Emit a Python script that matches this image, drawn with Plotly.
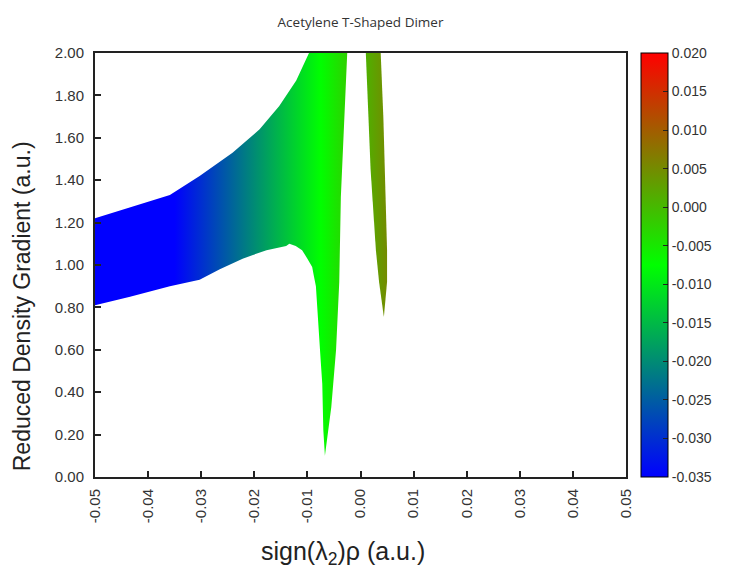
import plotly.graph_objects as go

# ---- data ----
# main region: upper edge of the band (left to right)
band_upper_x = [-0.0500, -0.0434, -0.0359, -0.0303, -0.0265, -0.0241, -0.0190, -0.0153, -0.0121, -0.0097]
band_upper_y = [1.22, 1.27, 1.33, 1.42, 1.49, 1.53, 1.64, 1.75, 1.87, 2.00]
# right edge of the green spike (top to tip)
spike_right_x = [-0.0025, -0.0031, -0.0037, -0.0040, -0.0046, -0.0055, -0.0067]
spike_right_y = [2.00, 1.65, 1.32, 0.92, 0.60, 0.33, 0.10]
# left edge of the spike and lower edge of the band (tip back to the left)
band_lower_x = [-0.0070, -0.0072, -0.0075, -0.0078, -0.0081, -0.0084, -0.0088, -0.0091, -0.0100, -0.0110,
                -0.0122, -0.0134, -0.0140, -0.0177, -0.0222, -0.0265, -0.0303, -0.0359, -0.0434, -0.0500]
band_lower_y = [0.22, 0.44, 0.55, 0.68, 0.80, 0.90, 0.95, 0.99, 1.03, 1.07,
                1.09, 1.10, 1.09, 1.07, 1.03, 0.98, 0.93, 0.90, 0.85, 0.81]

# small olive spike on the positive side
olive_x = [0.0010, 0.0038, 0.0043, 0.0047, 0.0050, 0.0050, 0.0044, 0.0035, 0.0029, 0.0019, 0.0010]
olive_y = [2.00, 2.00, 1.70, 1.39, 1.07, 0.92, 0.755, 0.92, 1.07, 1.45, 2.00]

# colour scale / colorbar
c_min, c_max = -0.035, 0.020
cbar_vals = [-0.035, -0.030, -0.025, -0.020, -0.015, -0.010, -0.005, 0.000, 0.005, 0.010, 0.015, 0.020]
cbar_text = ["-0.035", "-0.030", "-0.025", "-0.020", "-0.015", "-0.010", "-0.005",
             "0.000", "0.005", "0.010", "0.015", "0.020"]

x_ticks = [-0.05, -0.04, -0.03, -0.02, -0.01, 0.00, 0.01, 0.02, 0.03, 0.04, 0.05]
x_text = ["-0.05", "-0.04", "-0.03", "-0.02", "-0.01", "0.00", "0.01", "0.02", "0.03", "0.04", "0.05"]
y_ticks = [0.0, 0.2, 0.4, 0.6, 0.8, 1.0, 1.2, 1.4, 1.6, 1.8, 2.0]
y_text = ["0.00", "0.20", "0.40", "0.60", "0.80", "1.00", "1.20", "1.40", "1.60", "1.80", "2.00"]

colorscale = [[0.0, "rgb(0,0,255)"], [0.5, "rgb(0,255,0)"], [1.0, "rgb(255,0,0)"]]

FONT = "Liberation Sans, Arial, sans-serif"

main_x = band_upper_x + spike_right_x + band_lower_x
main_y = band_upper_y + spike_right_y + band_lower_y

fig = go.Figure()

for xs, ys in [(main_x, main_y), (olive_x, olive_y)]:
    fig.add_trace(go.Scatter(
        x=xs, y=ys, mode="lines", fill="toself",
        line=dict(width=0, color="rgba(0,0,0,0)"),
        fillgradient=dict(type="horizontal", colorscale=colorscale, start=c_min, stop=c_max),
        hoverinfo="skip", showlegend=False,
    ))

# colorbar carrier
fig.add_trace(go.Scatter(
    x=[c_min, c_max], y=[1.0, 1.0], mode="markers",
    marker=dict(
        color=[c_min, c_max], cmin=c_min, cmax=c_max, colorscale=colorscale,
        opacity=0, size=1, showscale=True,
        colorbar=dict(
            x=(643 - 95) / 533, xanchor="left", xpad=0, ypad=0,
            y=0.5, yanchor="middle", len=1.0, lenmode="fraction",
            thickness=27, outlinewidth=1, outlinecolor="black",
            tickmode="array", tickvals=cbar_vals, ticktext=cbar_text,
            ticks="inside", ticklen=5, tickwidth=1, tickcolor="#222",
            tickfont=dict(family=FONT, size=14, color="#333"),
        ),
    ),
    hoverinfo="skip", showlegend=False,
))

fig.update_layout(
    width=730, height=576,
    margin=dict(l=95, r=102, t=53, b=99),
    paper_bgcolor="white", plot_bgcolor="white",
    title=dict(text="Acetylene T-Shaped Dimer", x=0.5, xref="paper", xanchor="center",
               y=1 - 22 / 576, yanchor="middle",
               font=dict(family="Open Sans, sans-serif", size=13.5, color="#333")),
    font=dict(family=FONT, color="#333"),
)

fig.update_xaxes(
    range=[-0.05, 0.05], tickmode="array", tickvals=x_ticks, ticktext=x_text,
    tickangle=-90, ticks="inside", ticklen=6, tickwidth=1.5, tickcolor="#222",
    showline=True, linecolor="#222", linewidth=2, mirror=True,
    showgrid=False, zeroline=False, ticklabelstandoff=4,
    tickfont=dict(family=FONT, size=15, color="#333"),
)
fig.update_yaxes(
    range=[0, 2.0], tickmode="array", tickvals=y_ticks, ticktext=y_text,
    ticks="inside", ticklen=6, tickwidth=1.5, tickcolor="#222",
    showline=True, linecolor="#222", linewidth=2, mirror=True,
    showgrid=False, zeroline=False, ticklabelstandoff=6,
    tickfont=dict(family=FONT, size=15, color="#333"),
)

# axis titles placed where the reference has them
fig.add_annotation(text="sign(λ<sub>2</sub>)ρ (a.u.)", xref="paper", yref="paper",
                   x=(344 - 95) / 533, y=(477 - 553) / 424, xanchor="center", yanchor="middle",
                   showarrow=False, font=dict(family=FONT, size=25, color="#222"))
fig.add_annotation(text="Reduced Density Gradient (a.u.)", xref="paper", yref="paper",
                   x=(22 - 95) / 533, y=(477 - 306) / 424, xanchor="center", yanchor="middle",
                   textangle=-90, showarrow=False, font=dict(family=FONT, size=23, color="#222"))

fig.write_html("out.html")
